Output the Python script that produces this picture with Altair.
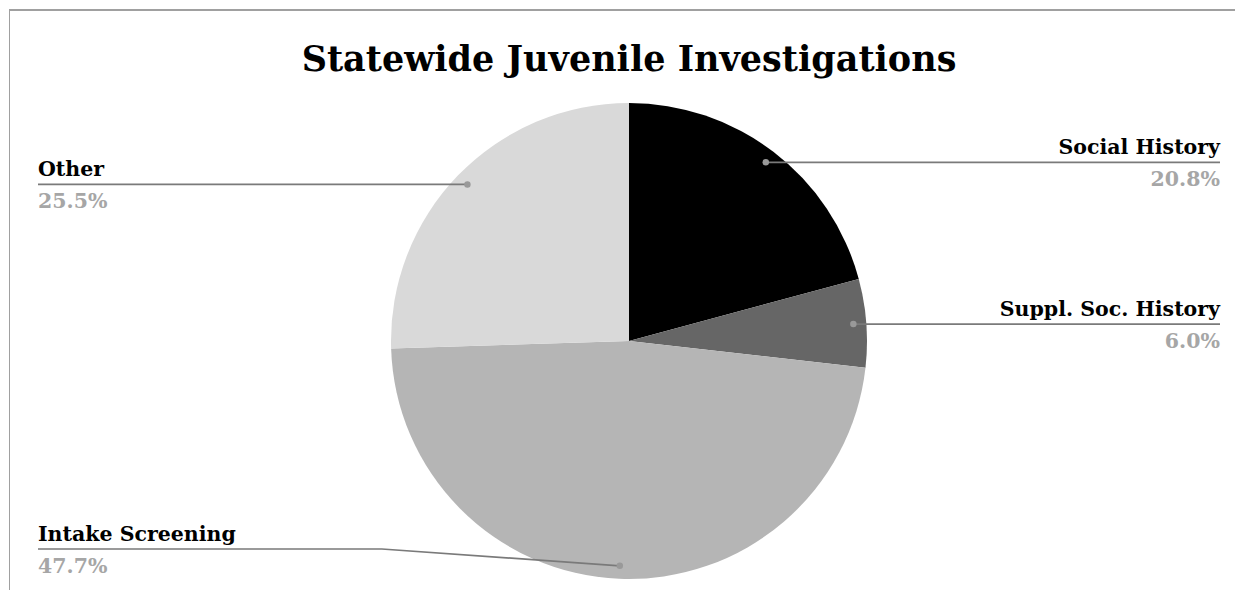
import math
import altair as alt
import pandas as pd

# ---- data ----
categories = ["Social History", "Suppl. Soc. History", "Intake Screening", "Other"]
values = [20.8, 6.0, 47.7, 25.5]
colors = ["#000000", "#666666", "#b5b5b5", "#d9d9d9"]
title_text = ["Statewide Juvenile Investigations"]

# ---- layout (chart pixel space) ----
W, H = 1227, 582
CX, CY, R = 620, 332, 238
RD = 225            # radius of the leader dots
RIGHT_X, LEFT_X = 1211, 29
YMAX = 540          # lowest label line
FONT = "DejaVu Serif"
LFS = 20.5

tot = sum(values)
rows, line_rows = [], []
cum = 0.0
for i, (c, v) in enumerate(zip(categories, values)):
    mid = 2 * math.pi * (cum + v / 2) / tot
    cum += v
    dx = CX + RD * math.sin(mid)
    dy = CY - RD * math.cos(mid)
    side = "right" if math.sin(mid) > 0 else "left"
    lx = RIGHT_X if side == "right" else LEFT_X
    ly = min(dy, YMAX)
    if ly != dy:
        ex = dx + R if side == "right" else dx - R
    else:
        ex = dx
    rows.append(dict(cat=c, value=v, order=i, pct=f"{v:.1f}%", dx=dx, dy=dy,
                     lx=lx, ly=ly, side=side))
    for k, (px, py) in enumerate([(dx, dy), (ex, ly), (lx, ly)]):
        line_rows.append(dict(cat=c, step=k, px=px, py=py))

df = pd.DataFrame(rows)
lines = pd.DataFrame(line_rows)

base = alt.Chart(df)

pie = base.mark_arc(radius=R).encode(
    theta=alt.Theta("value:Q", stack=True),
    order=alt.Order("order:Q"),
    color=alt.Color("cat:N", scale=alt.Scale(domain=categories, range=colors), legend=None),
    x=alt.value(CX),
    y=alt.value(CY),
)

leader = alt.Chart(lines).mark_line(color="#7a7a7a", strokeWidth=1.7).encode(
    x=alt.X("px:Q", scale=None),
    y=alt.Y("py:Q", scale=None),
    detail="cat:N",
    order="step:Q",
)

dots = base.mark_circle(color="#999999", opacity=1, size=42).encode(
    x=alt.X("dx:Q", scale=None),
    y=alt.Y("dy:Q", scale=None),
)

def labels(side, align):
    b = base.transform_filter(alt.datum.side == side)
    name = b.mark_text(align=align, baseline="alphabetic", font=FONT, fontWeight="bold",
                       fontSize=LFS, color="#000000", dy=-8).encode(
        x=alt.X("lx:Q", scale=None), y=alt.Y("ly:Q", scale=None), text="cat:N")
    pct = b.mark_text(align=align, baseline="alphabetic", font=FONT, fontWeight="bold",
                      fontSize=LFS, color="#a6a6a6", dy=24).encode(
        x=alt.X("lx:Q", scale=None), y=alt.Y("ly:Q", scale=None), text="pct:N")
    return name + pct

title = alt.Chart(pd.DataFrame({"t": title_text})).mark_text(
    font=FONT, fontWeight="bold", fontSize=35, color="#000000",
    align="center", baseline="alphabetic").encode(
    x=alt.value(CX), y=alt.value(62), text="t:N")

border_top = alt.Chart(pd.DataFrame({"t": [0]})).mark_rule(color="#a0a0a0", strokeWidth=2).encode(
    x=alt.value(0), x2=alt.value(W), y=alt.value(1))
border_left = alt.Chart(pd.DataFrame({"t": [0]})).mark_rule(color="#a0a0a0", strokeWidth=1).encode(
    x=alt.value(0.5), y=alt.value(0), y2=alt.value(H))

chart = alt.layer(
    border_top, border_left, pie, leader, dots,
    labels("right", "right"), labels("left", "left"), title
).properties(
    width=W, height=H, padding=0,
    autosize=alt.AutoSizeParams(type="fit", contains="padding"),
).configure_view(stroke=None)

chart.save("out.html", embed_options={"renderer": "svg", "actions": False})
